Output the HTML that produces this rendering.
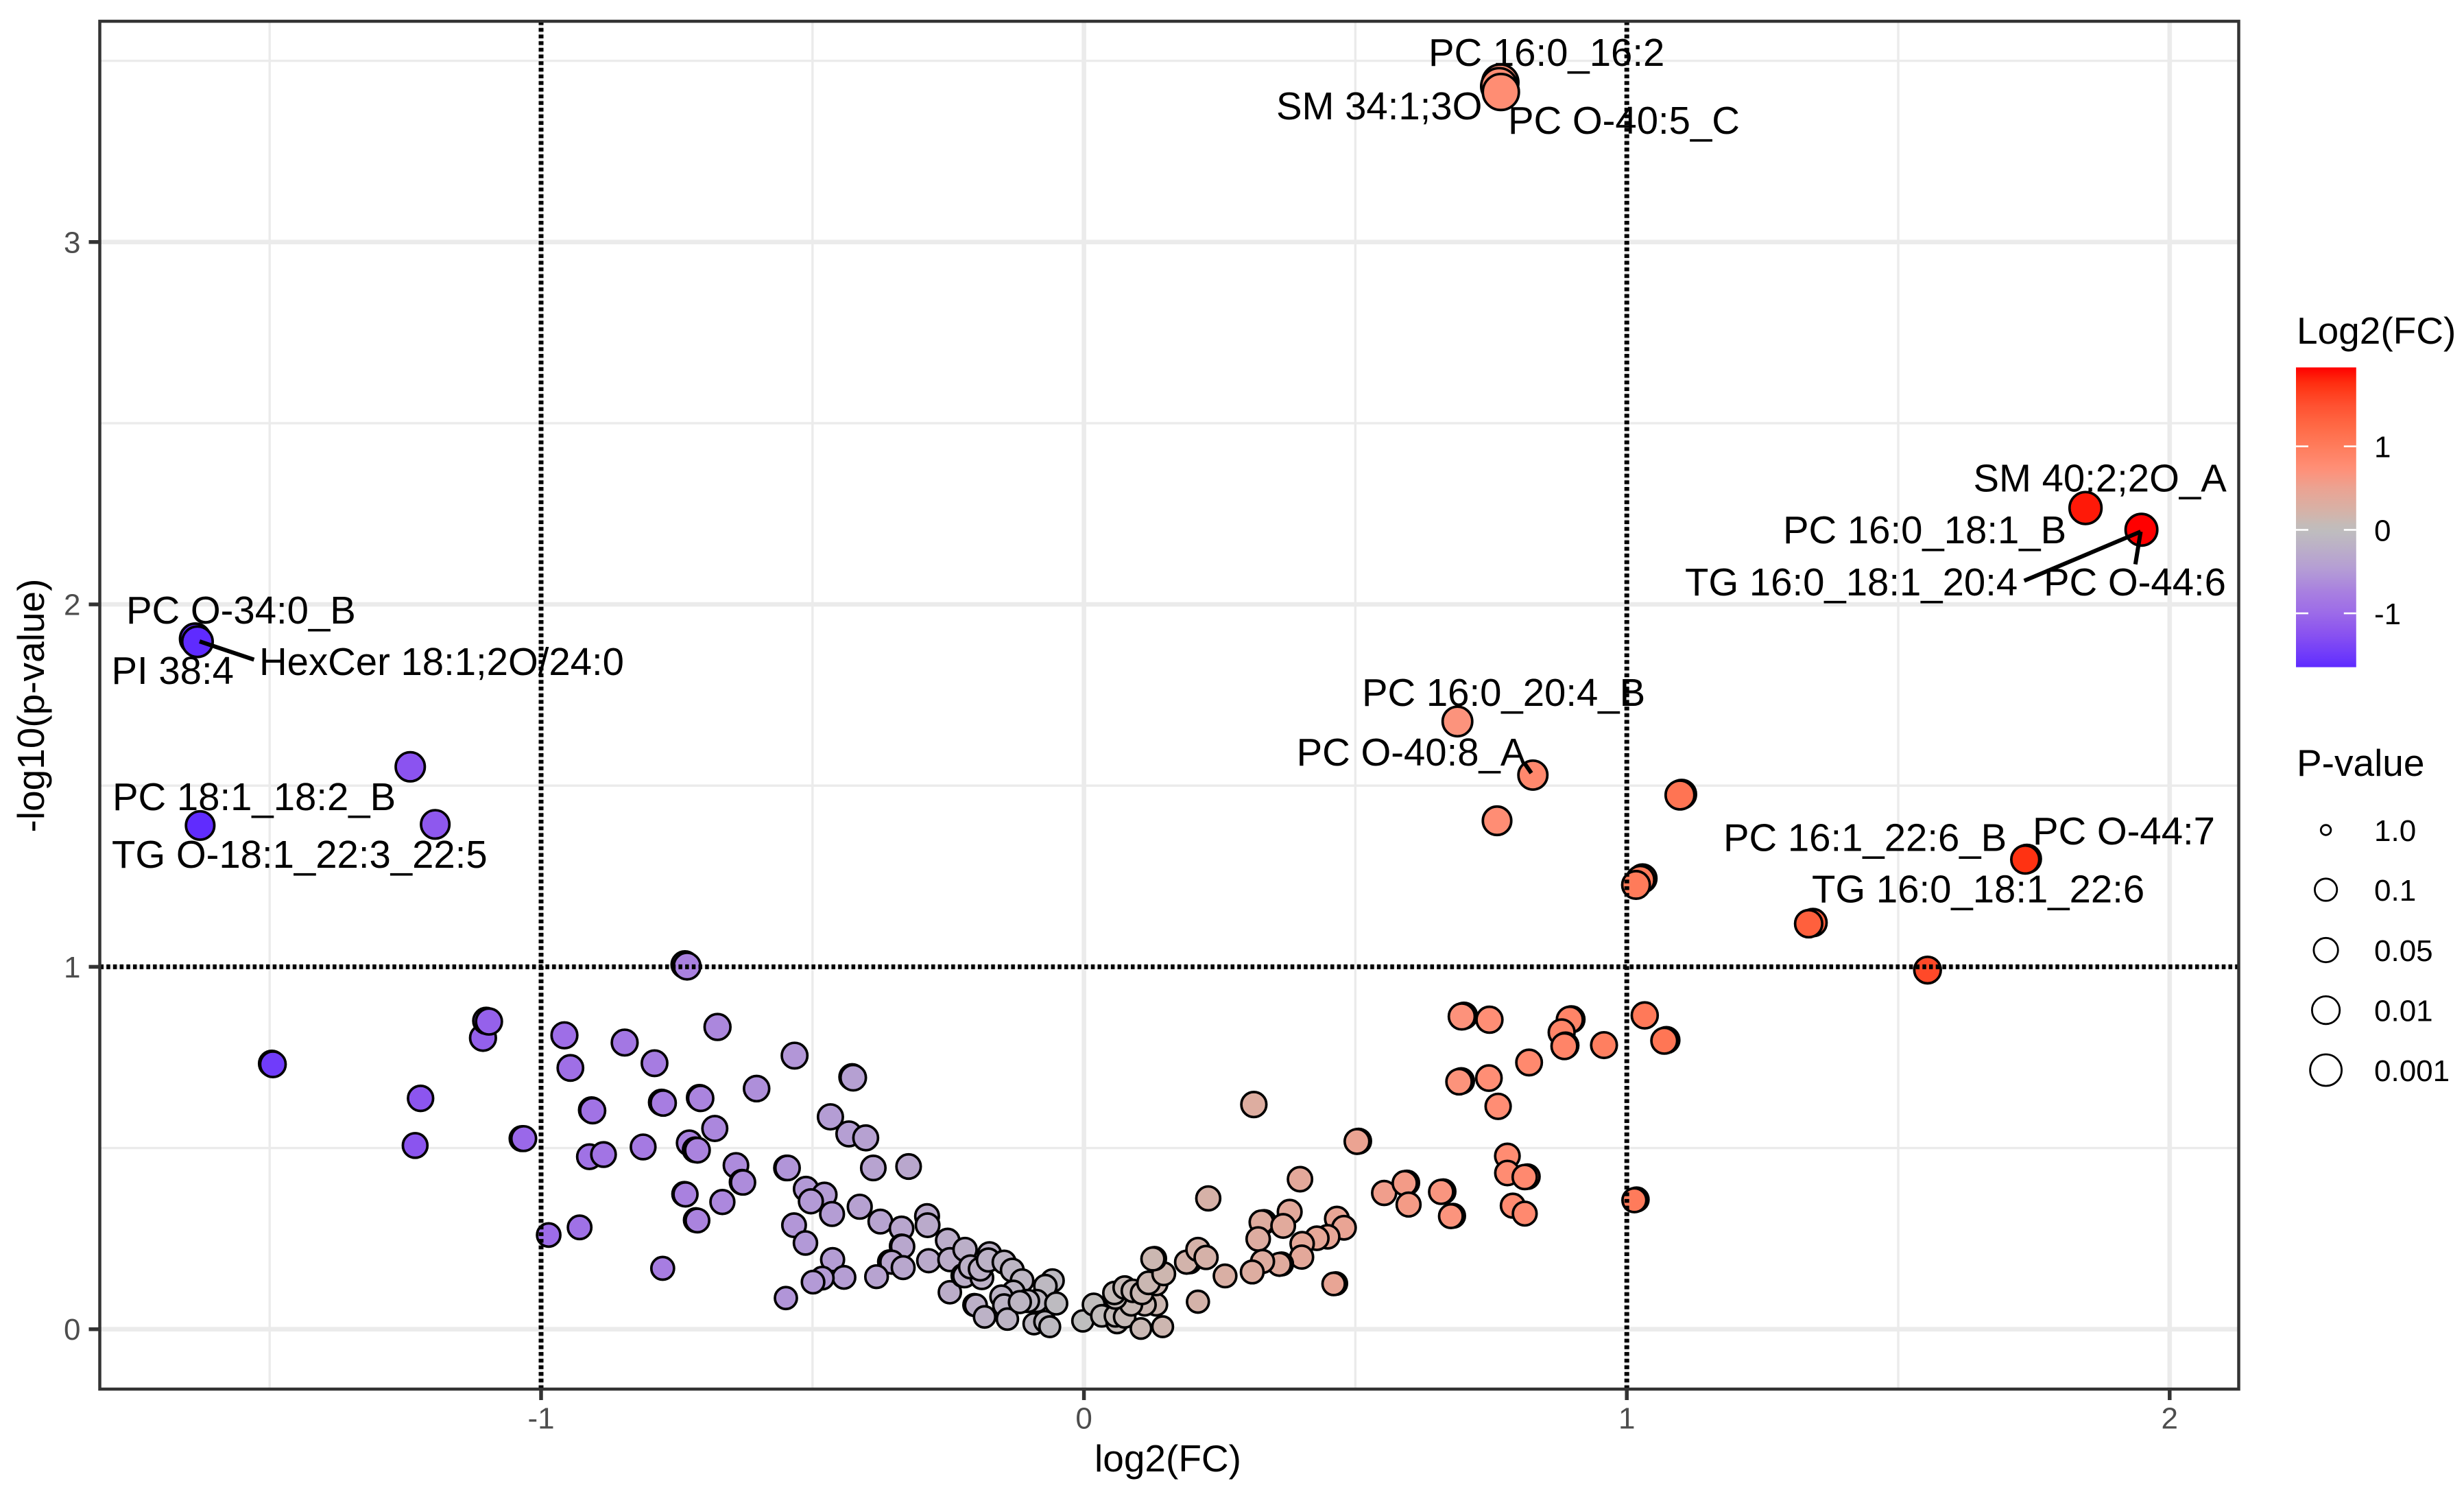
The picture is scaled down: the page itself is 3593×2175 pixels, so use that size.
<!DOCTYPE html>
<html lang="en">
<head>
<meta charset="utf-8">
<title>Volcano plot</title>
<style>
html,body{margin:0;padding:0;background:#fff;}
svg{display:block;}
text{font-family:"Liberation Sans",sans-serif;}
.lab{font-size:56.3px;fill:#000;}
.seg{stroke:#000;stroke-width:6;fill:none;}
.leg{font-size:44px;fill:#000;}
.title{font-size:55px;fill:#000;}
</style>
</head>
<body>
<svg id="chart" xmlns="http://www.w3.org/2000/svg" width="3593" height="2175" viewBox="0 0 3593 2175">
  <rect x="0" y="0" width="3593" height="2175" fill="#fff"/>
  <g id="grid"></g>
  <g id="points"></g>
  <g id="refs"></g>
  <g>
    <line class="seg" x1="291" y1="935" x2="370.4" y2="961.6"/>
    <line class="seg" x1="2224" y1="1114" x2="2233" y2="1127"/>
    <line class="seg" x1="3121.5" y1="775" x2="2951.7" y2="846.6"/>
    <line class="seg" x1="3121.5" y1="775" x2="3113.8" y2="822.6"/>
  </g>
  <g>
    <text class="lab" x="184" y="909">PC O-34:0_B</text>
    <text class="lab" x="162.5" y="997">PI 38:4</text>
    <text class="lab" x="378" y="984">HexCer 18:1;2O/24:0</text>
    <text class="lab" x="164" y="1181">PC 18:1_18:2_B</text>
    <text class="lab" x="163" y="1265">TG O-18:1_22:3_22:5</text>
    <text class="lab" x="2083" y="96">PC 16:0_16:2</text>
    <text class="lab" x="1861" y="174">SM 34:1;3O</text>
    <text class="lab" x="2199" y="195">PC O-40:5_C</text>
    <text class="lab" x="1986" y="1029">PC 16:0_20:4_B</text>
    <text class="lab" x="1890.6" y="1116">PC O-40:8_A</text>
    <text class="lab" x="2877.5" y="716.6">SM 40:2;2O_A</text>
    <text class="lab" x="2600" y="792">PC 16:0_18:1_B</text>
    <text class="lab" x="2457" y="868">TG 16:0_18:1_20:4</text>
    <text class="lab" x="2980" y="868">PC O-44:6</text>
    <text class="lab" x="2513" y="1240.5">PC 16:1_22:6_B</text>
    <text class="lab" x="2964" y="1231">PC O-44:7</text>
    <text class="lab" x="2642" y="1315.5">TG 16:0_18:1_22:6</text>
  </g>
  <rect x="145.5" y="31" width="3119" height="1994" fill="none" stroke="#333333" stroke-width="4.5"/>
  <g id="axes"></g>
  <text class="title" x="1703" y="2145" text-anchor="middle">log2(FC)</text>
  <text class="title" transform="translate(64,1028.5) rotate(-90)" text-anchor="middle">-log10(p-value)</text>
  <g id="legend-color">
    <text class="title" x="3349" y="501">Log2(FC)</text>
  </g>
  <g>
    <text class="title" x="3349" y="1131">P-value</text>
    <circle cx="3391.6" cy="1210" r="7.3" fill="#fff" stroke="#000" stroke-width="2.8"/>
    <circle cx="3391.6" cy="1297" r="16.2" fill="#fff" stroke="#000" stroke-width="2.8"/>
    <circle cx="3391.6" cy="1385" r="17.7" fill="#fff" stroke="#000" stroke-width="2.8"/>
    <circle cx="3391.6" cy="1472.6" r="20.2" fill="#fff" stroke="#000" stroke-width="2.8"/>
    <circle cx="3391.6" cy="1560" r="23" fill="#fff" stroke="#000" stroke-width="2.8"/>
    <text class="leg" x="3462" y="1226">1.0</text>
    <text class="leg" x="3462" y="1313">0.1</text>
    <text class="leg" x="3462" y="1401">0.05</text>
    <text class="leg" x="3462" y="1488.6">0.01</text>
    <text class="leg" x="3462" y="1576">0.001</text>
  </g>
</svg>
<script>
// Values
const log2FC = [
-1.637,-1.633,-1.628,-1.241,-1.195,-.735,-.731,-1.496,-1.494,-1.107,-1.101,-1.096,-1.222,-1.232,-1.035,-1.032,
-.957,-.846,-.791,-.946,-.778,-.775,-.907,-.905,-.911,-.885,-.812,-.986,-.929,-.776,-.675,-.533,-.427,-.425,-.603,
-.708,-.706,-.680,-.467,-.433,-.402,-.388,-.323,-.727,-.716,-.712,-.641,-.630,-.628,-.548,-.546,-.512,-.478,-.503,
-.464,-.413,-.375,-.336,-.336,-.334,-.289,-.288,-.251,-.286,-.358,-.354,-.333,-.247,-.382,-.463,-.442,-.482,-.499,
-.549,-.534,-.513,-.666,-.736,-.734,-.715,-.712,-.247,-.219,-.174,-.223,-.220,-.188,-.209,-.191,-.176,-.147,-.132,
-.114,-.130,-.152,-.147,-.202,-.199,-.183,-.141,-.092,-.072,-.063,-.058,-.071,-.087,-.106,-.103,-.118,-.051,
-.002,.018,.033,.061,.058,.075,.105,.145,.133,.112,.087,.058,.056,.075,.090,.107,.133,.119,.147,.130,.127,.195,.189,
.210,.225,.260,.210,.229,.313,.506,.503,.398,.379,.332,.327,.367,.321,.466,.479,.449,.429,.402,.401,.364,.360,.329,
.310,.464,.460,.553,.595,.591,.598,.662,.658,.680,.676,.780,.780,.817,.812,.790,.812,.695,.691,.746,.763,.700,.696,
.747,.898,.895,.880,.887,.885,.958,1.033,1.073,1.069,.820,1.554,1.018,1.014,1.343,1.335,1.737,1.734,1.101,1.098,
1.029,1.025,1.017,.688,.827,.761,.767,.765,.768,1.845,1.948
];
const negLog10P = [
1.905,1.897,1.390,1.552,1.393,1.006,1.002,.733,.731,.804,.851,.849,.637,.507,.526,.526,
.811,.791,.734,.721,.626,.624,.605,.603,.476,.482,.503,.260,.281,.168,.834,.755,.696,.694,.664,
.639,.637,.554,.586,.539,.528,.445,.449,.514,.495,.494,.452,.406,.405,.445,.445,.387,.371,.353,
.318,.338,.297,.278,.229,.228,.312,.287,.245,.189,.186,.185,.170,.192,.145,.192,.143,.141,.130,
.086,.287,.238,.351,.373,.372,.301,.300,.102,.220,.208,.148,.147,.142,.172,.166,.191,.185,.163,
.134,.103,.090,.066,.067,.066,.034,.028,.015,.021,.007,.134,.119,.078,.078,.078,.075,.071,
.023,.068,.037,.018,.037,.034,.002,.007,.068,.068,.068,.087,.100,.115,.106,.100,.125,.128,.153,.195,.194,.186,.185,
.220,.198,.147,.076,.361,.620,.519,.518,.414,.324,.296,.295,.285,.249,.305,.280,.255,.251,.236,.199,.180,.179,.187,
.158,.126,.125,.376,.404,.403,.344,.380,.379,.313,.312,.478,.431,.421,.420,.341,.319,.685,.683,.693,.615,.865,.863,
.854,.855,.854,.819,.783,.781,.784,.866,.798,.796,.736,.991,.358,.356,1.122,1.119,1.298,1.296,1.476,1.474,
1.244,1.240,1.226,1.677,1.529,1.403,3.440,3.430,3.414,2.266,2.206
];
const xMajorTicks = [-1,0,1,2];
const xMinorTicks = [-1.5,-0.5,0.5,1.5];
const yMajorTicks = [0,1,2,3];
const yMinorTicks = [0.5,1.5,2.5,3.5];
const xThresholds = [-1,1];
const yThresholds = [1];
const colorbarTicks = [-1,0,1];
const colorLimitLow = -1.645;
const colorLimitHigh = 1.946;
const colorScaleValues = [-1.645,-1.5,-1.25,-1,-0.75,-0.5,-0.25,0,0.25,0.5,0.72,1,1.25,1.5,1.75,1.948];
const colorScaleHex = ['#5E2AFF','#6F3BFA','#8A52F0','#9C6BE8','#A87FE0','#B39AD6','#BBADC9','#BEBEBE','#D8B0A5','#EBA392','#FF9078','#FF7C5C','#FF6844','#FF5030','#FF3010','#FF0000'];

const SVGNS = 'http://www.w3.org/2000/svg';
const PANEL = {left:145.5, right:3264.5, top:31, bottom:2025};
function xScale(v){ return 1580.6 + 791.6*v; }
function yScale(v){ return 1937.7 - 528.3*v; }
function diameter(p){ const q=Math.max(0,p); return 33 + 9.2*Math.sqrt(q) + 2.5*Math.max(0,q-0.9); }
function barY(v){ return 772.4 - 121.7*v; }

function hexRgb(h){ return [parseInt(h.slice(1,3),16),parseInt(h.slice(3,5),16),parseInt(h.slice(5,7),16)]; }
function fillFor(v){
  const n=colorScaleValues.length;
  if(v<=colorScaleValues[0]){ return colorScaleHex[0]; }
  if(v>=colorScaleValues[n-1]){ return colorScaleHex[n-1]; }
  let i=0;
  while(v>colorScaleValues[i+1]){ i++; }
  const t=(v-colorScaleValues[i])/(colorScaleValues[i+1]-colorScaleValues[i]);
  const a=hexRgb(colorScaleHex[i]), b=hexRgb(colorScaleHex[i+1]);
  return 'rgb('+Math.round(a[0]+(b[0]-a[0])*t)+','+Math.round(a[1]+(b[1]-a[1])*t)+','+Math.round(a[2]+(b[2]-a[2])*t)+')';
}
function mk(tag,parent,attrs){
  const el=document.createElementNS(SVGNS,tag);
  for(const k in attrs){ el.setAttribute(k,attrs[k]); }
  parent.appendChild(el);
  return el;
}

const gridG=document.getElementById('grid');
xMinorTicks.forEach(function(v){
  const el=mk('line',gridG,{x1:xScale(v),x2:xScale(v),y1:PANEL.top,y2:PANEL.bottom,stroke:'#EBEBEB','stroke-width':3.4});
  
  
});
yMinorTicks.forEach(function(v){
  const el=mk('line',gridG,{x1:PANEL.left,x2:PANEL.right,y1:yScale(v),y2:yScale(v),stroke:'#EBEBEB','stroke-width':3.4});
  
  
});
xMajorTicks.forEach(function(v){
  const el=mk('line',gridG,{x1:xScale(v),x2:xScale(v),y1:PANEL.top,y2:PANEL.bottom,stroke:'#EBEBEB','stroke-width':6.6});
  
  
});
yMajorTicks.forEach(function(v){
  const el=mk('line',gridG,{x1:PANEL.left,x2:PANEL.right,y1:yScale(v),y2:yScale(v),stroke:'#EBEBEB','stroke-width':6.6});
  
  
});

const pointsG=document.getElementById('points');
log2FC.forEach(function(fc,i){
  const p=negLog10P[i];
  const sw=3.7;
  const el=mk('circle',pointsG,{cx:xScale(fc),cy:yScale(p),r:(diameter(p)-sw)/2,fill:fillFor(fc),stroke:'#000','stroke-width':sw});
  
  
});

const refsG=document.getElementById('refs');
xThresholds.forEach(function(v){
  const el=mk('line',refsG,{x1:xScale(v),x2:xScale(v),y1:PANEL.bottom,y2:PANEL.top,stroke:'#000','stroke-width':7,'stroke-dasharray':'5.5 4.2'});
  
  
});
yThresholds.forEach(function(v){
  const el=mk('line',refsG,{x1:PANEL.left,x2:PANEL.right,y1:yScale(v),y2:yScale(v),stroke:'#000','stroke-width':7,'stroke-dasharray':'5.5 4.2'});
  
  
});

const axesG=document.getElementById('axes');
xMajorTicks.forEach(function(v){
  const t=mk('line',axesG,{x1:xScale(v),x2:xScale(v),y1:PANEL.bottom,y2:PANEL.bottom+16,stroke:'#333333','stroke-width':5.5});
  
  
  const l=mk('text',axesG,{x:xScale(v),y:2082.7,'text-anchor':'middle','font-size':44,fill:'#4D4D4D'});
  
  
  l.textContent=String(v);
});
yMajorTicks.forEach(function(v){
  const t=mk('line',axesG,{x1:PANEL.left-16,x2:PANEL.left,y1:yScale(v),y2:yScale(v),stroke:'#333333','stroke-width':5.5});
  
  
  const l=mk('text',axesG,{x:117.5,y:yScale(v)+15.5,'text-anchor':'end','font-size':44,fill:'#4D4D4D'});
  
  
  l.textContent=String(v);
});

const legendG=document.getElementById('legend-color');
const defs=mk('defs',legendG,{});
const grad=mk('linearGradient',defs,{id:'colorbar-gradient',x1:0,y1:1,x2:0,y2:0});
for(let i=0;i<=40;i++){
  const v=colorLimitLow+(colorLimitHigh-colorLimitLow)*i/40;
  mk('stop',grad,{offset:(i/40),'stop-color':fillFor(v)});
}
const bar=mk('rect',legendG,{x:3348,y:535.6,width:87.8,height:437,fill:'url(#colorbar-gradient)'});


colorbarTicks.forEach(function(v){
  const a=mk('line',legendG,{x1:3348,x2:3366,y1:barY(v),y2:barY(v),stroke:'#fff','stroke-width':2.6});
  
  
  const b=mk('line',legendG,{x1:3417.8,x2:3435.8,y1:barY(v),y2:barY(v),stroke:'#fff','stroke-width':2.6});
  
  
  const l=mk('text',legendG,{x:3462,y:barY(v)+16,'font-size':44,fill:'#000'});
  
  
  l.textContent=String(v);
});
</script>
</body>
</html>
